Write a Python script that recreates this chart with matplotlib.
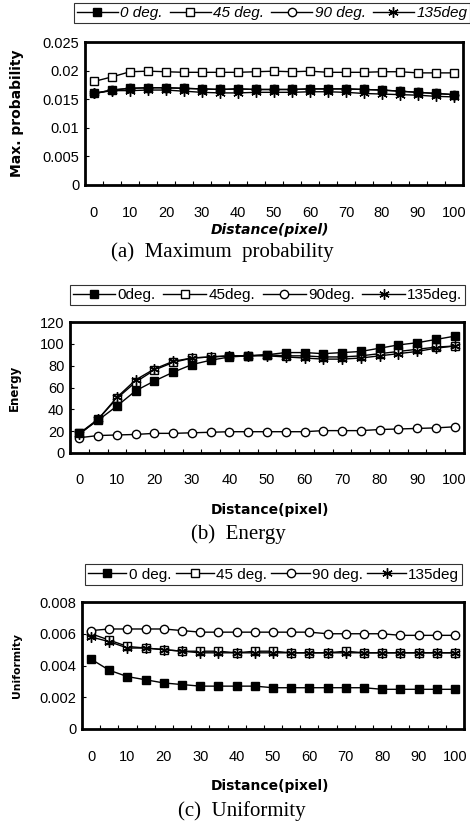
import matplotlib
matplotlib.use("Agg")
import matplotlib.pyplot as plt
import numpy as np

plt.rcParams['font.family'] = ['Liberation Sans', 'DejaVu Sans']

distance = [0, 5, 10, 15, 20, 25, 30, 35, 40, 45, 50, 55, 60, 65, 70, 75, 80, 85, 90, 95, 100]
tick_labels = ["0", "10", "20", "30", "40", "50", "60", "70", "80", "90", "100"]

# (a) Maximum probability
maxp_0 = [0.0160, 0.0166, 0.0169, 0.0170, 0.0170, 0.0169, 0.0168, 0.0167, 0.0168, 0.0167, 0.0167,
          0.0167, 0.0168, 0.0168, 0.0168, 0.0167, 0.0166, 0.0164, 0.0162, 0.0160, 0.0158]
maxp_45 = [0.0181, 0.0189, 0.0198, 0.0199, 0.0198, 0.0197, 0.0197, 0.0197, 0.0197, 0.0198, 0.0199,
           0.0198, 0.0199, 0.0197, 0.0197, 0.0197, 0.0198, 0.0198, 0.0196, 0.0196, 0.0196]
maxp_90 = [0.0160, 0.0166, 0.0169, 0.0170, 0.0170, 0.0169, 0.0168, 0.0167, 0.0168, 0.0167, 0.0167,
           0.0167, 0.0168, 0.0168, 0.0168, 0.0167, 0.0166, 0.0164, 0.0162, 0.0160, 0.0158]
maxp_135 = [0.0160, 0.0165, 0.0165, 0.0166, 0.0166, 0.0164, 0.0162, 0.0161, 0.0161, 0.0162, 0.0162,
            0.0162, 0.0163, 0.0163, 0.0162, 0.0160, 0.0159, 0.0158, 0.0157, 0.0155, 0.0154]

# (b) Energy
energy_0 = [18, 30, 43, 57, 66, 74, 81, 85, 88, 89, 90, 92, 92, 91, 92, 93, 96, 99, 101, 104, 107]
energy_45 = [18, 31, 50, 65, 76, 83, 87, 88, 89, 89, 90, 89, 89, 88, 88, 89, 91, 93, 95, 97, 98]
energy_90 = [14, 16, 16.5, 17, 18, 18, 18.5, 19, 19.5, 19.5, 19.5, 19.5, 19.5, 20.5, 20.5, 20.5,
             21.5, 22, 22.5, 23, 24]
energy_135 = [17, 31, 51, 67, 77, 84, 87, 88, 89, 89, 89, 88, 87, 86, 86, 87, 89, 91, 93, 96, 98]

# (c) Uniformity
unif_0 = [0.0044, 0.0037, 0.0033, 0.0031, 0.0029, 0.0028, 0.0027, 0.0027, 0.0027, 0.0027, 0.0026,
          0.0026, 0.0026, 0.0026, 0.0026, 0.0026, 0.0025, 0.0025, 0.0025, 0.0025, 0.0025]
unif_45 = [0.0060, 0.0056, 0.0052, 0.0051, 0.0050, 0.0049, 0.0049, 0.0049, 0.0048, 0.0049, 0.0049,
           0.0048, 0.0048, 0.0048, 0.0049, 0.0048, 0.0048, 0.0048, 0.0048, 0.0048, 0.0048]
unif_90 = [0.0062, 0.0063, 0.0063, 0.0063, 0.0063, 0.0062, 0.0061, 0.0061, 0.0061, 0.0061, 0.0061,
           0.0061, 0.0061, 0.0060, 0.0060, 0.0060, 0.0060, 0.0059, 0.0059, 0.0059, 0.0059]
unif_135 = [0.0058, 0.0055, 0.0051, 0.0051, 0.0050, 0.0049, 0.0048, 0.0048, 0.0048, 0.0048, 0.0048,
            0.0048, 0.0048, 0.0048, 0.0048, 0.0048, 0.0048, 0.0048, 0.0048, 0.0048, 0.0048]

panels = [
    dict(series=[maxp_0, maxp_45, maxp_90, maxp_135],
         labels=["0 deg.", "45 deg.", "90 deg.", "135deg"],
         ylim=(0, 0.025), yticks=[0, 0.005, 0.01, 0.015, 0.02, 0.025],
         yticklabels=["0", "0.005", "0.01", "0.015", "0.02", "0.025"],
         ylabel="Max. probability", ylabel_fs=10, caption="(a)  Maximum  probability",
         ax_px=(85, 42, 463, 185), leg_px=(76, 4, 468, 22), italic=True,
         leg_hl=2.7, leg_cs=0.45,
         ylabel_x=17, xlab_y=213, xtitle_y=230, cap_y=252, cap_x=222),
    dict(series=[energy_0, energy_45, energy_90, energy_135],
         labels=["0deg.", "45deg.", "90deg.", "135deg."],
         ylim=(0, 120), yticks=[0, 20, 40, 60, 80, 100, 120],
         yticklabels=["0", "20", "40", "60", "80", "100", "120"],
         ylabel="Energy", ylabel_fs=8.5, caption="(b)  Energy",
         ax_px=(70, 322, 464, 453), leg_px=(70, 285, 465, 305), italic=False,
         leg_hl=2.8, leg_cs=0.5,
         ylabel_x=14, xlab_y=480, xtitle_y=510, cap_y=534, cap_x=238),
    dict(series=[unif_0, unif_45, unif_90, unif_135],
         labels=["0 deg.", "45 deg.", "90 deg.", "135deg"],
         ylim=(0, 0.008), yticks=[0, 0.002, 0.004, 0.006, 0.008],
         yticklabels=["0", "0.002", "0.004", "0.006", "0.008"],
         ylabel="Uniformity", ylabel_fs=7.8, caption="(c)  Uniformity",
         ax_px=(82, 602, 464, 729), leg_px=(82, 566, 465, 583), italic=False,
         leg_hl=2.5, leg_cs=0.3,
         ylabel_x=17, xlab_y=757, xtitle_y=786, cap_y=811, cap_x=242),
]

W, H = 470, 832
fig = plt.figure(figsize=(W / 100, H / 100), dpi=100)

styles = [
    dict(marker='s', markerfacecolor='black', markeredgecolor='black', markersize=6, zorder=6),
    dict(marker='s', markerfacecolor='white', markeredgecolor='black', markersize=6, zorder=3),
    dict(marker='o', markerfacecolor='white', markeredgecolor='black', markersize=6, zorder=4),
    dict(marker=(6, 2, 0), markerfacecolor='black', markeredgecolor='black', markersize=7.5, zorder=5),
]

x = np.arange(len(distance))
for p in panels:
    l, t, r, b = p['ax_px']
    ax = fig.add_axes([l / W, 1 - b / H, (r - l) / W, (b - t) / H])
    handles = []
    for s, lab, st in zip(p['series'], p['labels'], styles):
        h, = ax.plot(x, s, color='black', linewidth=1.0, markeredgewidth=1.0, label=lab, **st)
        handles.append(h)
    ax.set_xlim(-0.5, len(distance) - 0.5)
    ax.set_ylim(*p['ylim'])
    ax.set_yticks(p['yticks'])
    ax.set_yticklabels(p['yticklabels'], fontsize=10.5)
    ax.set_xticks(x[::2])
    ax.set_xticklabels([])
    ax.set_xticks(np.arange(-0.5, len(distance), 1.0), minor=True)
    ax.tick_params(axis='x', which='major', length=0)
    ax.tick_params(axis='x', which='minor', direction='in', length=3, width=0.8)
    ax.tick_params(axis='y', which='major', direction='in', length=3, width=0.8, pad=4)
    for sp in ax.spines.values():
        sp.set_linewidth(2.0)
    for xi, tl in zip(x[::2], tick_labels):
        xd, _ = ax.transData.transform((xi, 0))
        fig.text(xd / W, 1 - p['xlab_y'] / H, tl, ha='center', va='center', fontsize=10.5)
    style = 'italic' if p['italic'] else 'normal'
    fig.text(270 / W, 1 - p['xtitle_y'] / H, "Distance(pixel)", ha='center', va='center',
             fontsize=10, fontweight='bold', fontstyle=style, family=['DejaVu Sans'])
    fig.text(p['ylabel_x'] / W, 1 - ((t + b) / 2) / H, p['ylabel'], rotation=90, ha='center',
             va='center', fontsize=p['ylabel_fs'], fontweight='bold', family=['DejaVu Sans'])
    fig.text(p['cap_x'] / W, 1 - p['cap_y'] / H, p['caption'], ha='center', va='center',
             fontsize=15, family=['Liberation Serif'])
    ll, lt, lr, lb = p['leg_px']
    leg = ax.legend(handles=handles, loc='center', ncol=4,
                    bbox_to_anchor=((ll + lr) / 2 / W, 1 - (lt + lb) / 2 / H),
                    bbox_transform=fig.transFigure, frameon=True, fancybox=False,
                    edgecolor='black', borderpad=0.2, handlelength=p['leg_hl'], handletextpad=0.15,
                    columnspacing=p['leg_cs'], borderaxespad=0,
                    prop=dict(size=11, style=style))
    leg.get_frame().set_linewidth(0.8)

fig.savefig("out.png", dpi=100)
